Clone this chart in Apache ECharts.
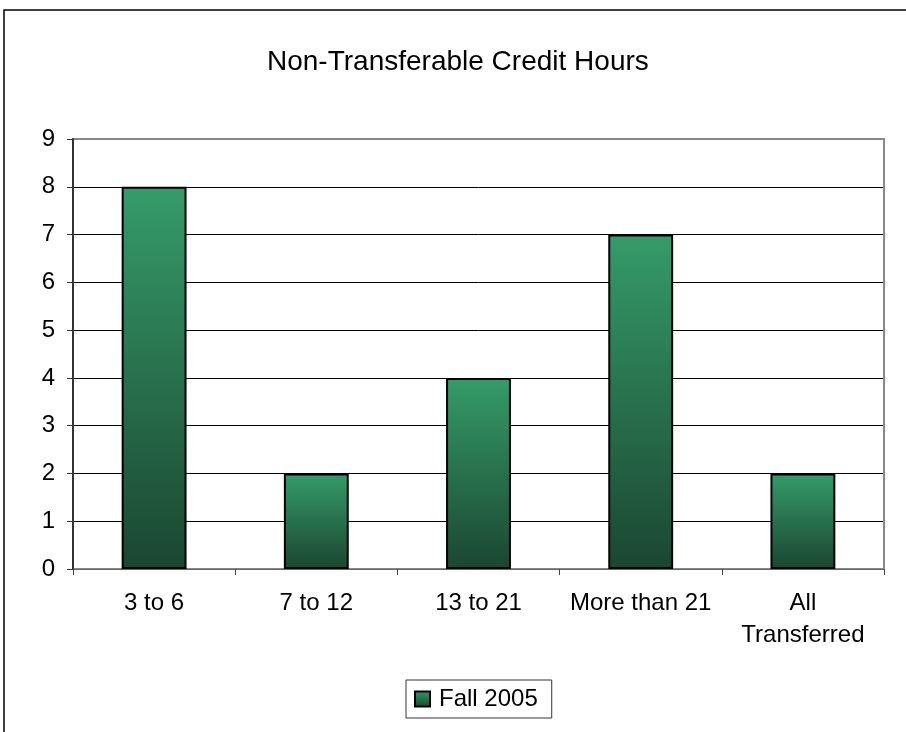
<!DOCTYPE html>
<html>
<head>
<meta charset="utf-8">
<script src="https://cdn.jsdelivr.net/npm/echarts@6/dist/echarts.min.js"></script>
<style>
  html, body { margin: 0; padding: 0; background: #fff; }
  #main { width: 906px; height: 732px; }
</style>
</head>
<body>
<div id="main"></div>
<script>
// data
var categories = ['3 to 6', '7 to 12', '13 to 21', 'More than 21', 'All\nTransferred'];
var fall2005 = [8, 2, 4, 7, 2];
var yTicks = [0, 9, 1];   // min, max, interval

var barFill = new echarts.graphic.LinearGradient(0, 0, 0, 1, [
    { offset: 0, color: '#359b69' },
    { offset: 1, color: '#1b4631' }
]);

var myChart = echarts.init(document.getElementById('main'));
var option = {
    animation: false,
    backgroundColor: '#fff',
    textStyle: { fontFamily: 'Liberation Sans, Arial, sans-serif' },
    title: {
        text: 'Non-Transferable Credit Hours',
        left: 267,
        top: 48,
        padding: 0,
        textStyle: { fontSize: 28, fontWeight: 'normal', color: '#000' }
    },
    // outer chart border (only the left and top edges are visible)
    graphic: [{
        type: 'rect',
        shape: { x: 4, y: 10, width: 1000, height: 1000 },
        style: { fill: 'none', stroke: '#000', lineWidth: 1.5 },
        silent: true
    }],
    legend: {
        data: ['Fall 2005'],
        icon: 'rect',
        bottom: 14,
        left: 406,
        itemWidth: 15,
        itemHeight: 15,
        itemGap: 5,
        padding: [7, 14, 7, 8],
        borderColor: '#333',
        borderWidth: 1,
        textStyle: { fontSize: 24, color: '#000', padding: [0, 0, 0, 4] },
        itemStyle: { borderColor: '#000', borderWidth: 2 }
    },
    grid: {
        left: 73,
        right: 22,
        top: 139,
        bottom: 163,
        show: true,
        z: 1,
        borderColor: '#888',
        borderWidth: 2,
        backgroundColor: 'transparent'
    },
    xAxis: {
        type: 'category',
        data: categories,
        boundaryGap: true,
        z: 3,
        axisLine: { lineStyle: { color: '#666', width: 1 } },
        axisTick: { show: true, alignWithLabel: false, length: 6, lineStyle: { color: '#444' } },
        axisLabel: { fontSize: 24, color: '#000', margin: 18, lineHeight: 32, interval: 0 }
    },
    yAxis: [{
        type: 'value',
        min: yTicks[0],
        max: yTicks[1],
        interval: yTicks[2],
        z: 0,
        axisLine: { show: false },
        axisTick: { show: false },
        axisLabel: { fontSize: 24, color: '#000', margin: 18 },
        splitLine: { show: true, lineStyle: { color: '#000', width: 1 } }
    }, {
        // second copy of the value axis, drawn above the plot border
        type: 'value',
        position: 'left',
        min: yTicks[0],
        max: yTicks[1],
        interval: yTicks[2],
        z: 3,
        axisLine: { show: true, lineStyle: { color: '#333', width: 2 } },
        axisTick: { show: true, length: 6, lineStyle: { color: '#333' } },
        axisLabel: { show: false },
        splitLine: { show: false }
    }],
    series: [{
        name: 'Fall 2005',
        type: 'bar',
        data: fall2005,
        barWidth: '40%',
        z: 4,
        itemStyle: {
            color: barFill,
            borderColor: '#000',
            borderWidth: 2
        }
    }]
};
myChart.setOption(option);
</script>
</body>
</html>
